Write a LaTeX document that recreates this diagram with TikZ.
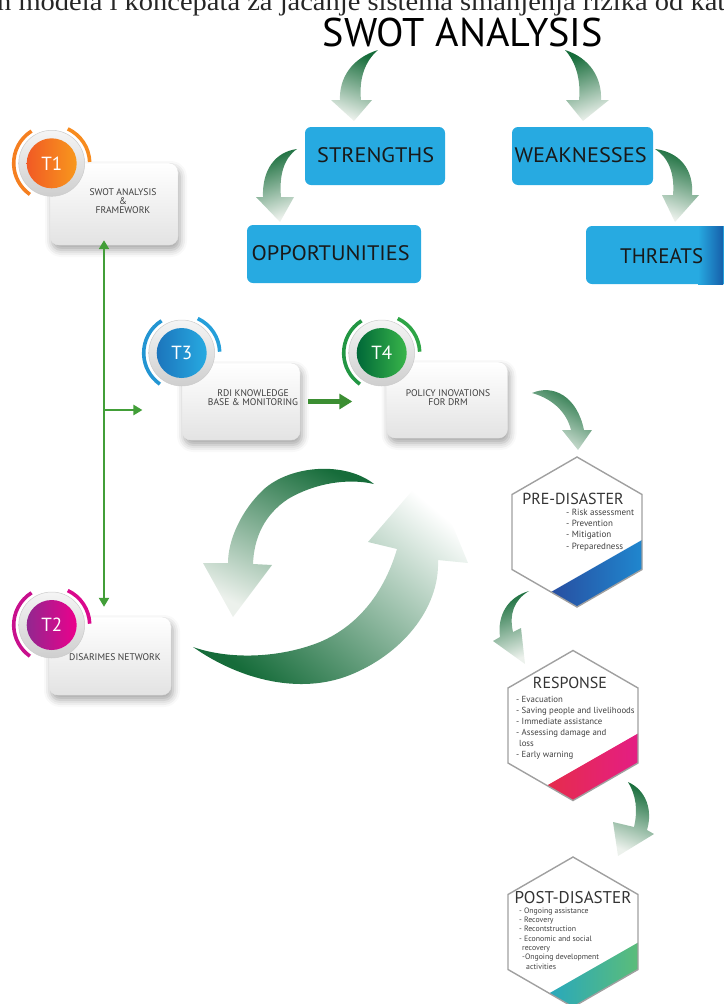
\documentclass[tikz,border=0pt]{standalone}
\usepackage{fontspec}
\setmainfont{Liberation Serif}
\newfontfamily\ptsans{PT Sans}
\usetikzlibrary{arrows.meta,shadows.blur,calc}
\definecolor{swotblue}{RGB}{39,170,225}
\definecolor{swotdeep}{RGB}{22,95,170}
\definecolor{gdark}{RGB}{22,108,58}
\definecolor{gmid}{RGB}{125,163,135}
\definecolor{glight}{RGB}{236,241,236}
\definecolor{conngreen}{RGB}{66,158,56}
\definecolor{cardtxt}{RGB}{62,62,62}
\definecolor{hexgray}{RGB}{160,160,160}
\definecolor{orA}{RGB}{241,90,36}
\definecolor{orB}{RGB}{248,152,29}
\definecolor{mgA}{RGB}{146,39,143}
\definecolor{mgB}{RGB}{236,0,140}
\definecolor{blA}{RGB}{28,117,188}
\definecolor{blB}{RGB}{39,170,225}
\definecolor{gnA}{RGB}{0,104,56}
\definecolor{gnB}{RGB}{57,181,74}
\definecolor{preA}{RGB}{43,57,144}
\definecolor{preB}{RGB}{30,144,214}
\definecolor{resA}{RGB}{230,50,55}
\definecolor{resB}{RGB}{228,27,141}
\definecolor{posA}{RGB}{20,160,215}
\definecolor{posB}{RGB}{100,192,110}
\newcommand\fitw[2]{\resizebox{#1}{\height}{#2}}
\newcommand\tring[5]{%
  \node[ringnode] (#1) at #2 {};
  \node[circle, minimum size=50pt, inner sep=0pt, left color=#3, right color=#4,
        text=white, font=\ptsans\fontsize{19}{19}\selectfont] (#1in) at (#1) {#5};
  \draw[#4!60!#3, line width=3.6pt] ($(#1)+(-122:38)$) arc[start angle=-122, end angle=-235, radius=38];
  \draw[#4!80!#3, line width=3.6pt] ($(#1)+(-65:38)$) arc[start angle=-65, end angle=-2, radius=38];
}
\newcommand\hexshape{(0,-75) -- (-65,-37.5) -- (-65,37.5) -- (0,75) -- (65,37.5) -- (65,-37.5) -- cycle}
\begin{document}
\begin{tikzpicture}[x=1pt,y=-1pt,
  swotbox/.style={rounded corners=6pt, fill=swotblue, inner sep=0pt},
  swottext/.style={font=\ptsans\fontsize{21}{21}\selectfont, text=black!90, inner sep=0pt},
  card/.style={rounded corners=9pt, top color=white, bottom color=gray!22, draw=gray!20, line width=0.4pt,
     inner sep=0pt, blur shadow={shadow xshift=2pt, shadow yshift=-5pt, shadow blur radius=7pt, shadow opacity=35}},
  cardtext/.style={font=\ptsans\fontsize{9.6}{9}\selectfont, text=cardtxt, align=center, inner sep=0pt},
  ringnode/.style={circle, minimum size=66pt, inner sep=0pt, top color=gray!8, bottom color=gray!38, draw=gray!40, line width=0.5pt},
  conn/.style={draw=conngreen, line width=2.4pt},
  tipsmall/.tip={Triangle[width=10pt,length=9pt]},
  crescent/.style={top color=gdark, middle color=gmid, bottom color=glight},
  hexline/.style={draw=hexgray, line width=1.4pt},
  hextitle/.style={font=\ptsans\fontsize{16}{16}\selectfont, text=black!80, inner sep=0pt},
  hexitems/.style={font=\ptsans\fontsize{9}{11.2}\selectfont, text=black!75, align=left, inner sep=0pt, anchor=north west}
]
\useasboundingbox (0,0) rectangle (723,1004);

% caption (cut off at top)
\node[anchor=base west, inner sep=0pt, font=\fontsize{26}{26}\selectfont, text=black!85] (caption) at (-3,10)
  {\fitw{728pt}{n modela i koncepata za jačanje sistema smanjenja rizika od kat}};

% SWOT title
\node[font=\ptsans\fontsize{40}{40}\selectfont, inner sep=0pt] (swot) at (463,32) {\fitw{280pt}{SWOT ANALYSIS}};

% SWOT boxes
\node[swotbox, minimum width=140pt, minimum height=58pt] (strengths) at (375,156) {};
\node[swottext] (strengthst) at (375.7,155) {\fitw{117pt}{STRENGTHS}};
\node[swotbox, minimum width=141pt, minimum height=58pt] (weak) at (582.5,156) {};
\node[swottext] (weakt) at (580.7,155) {\fitw{132pt}{WEAKNESSES}};
\node[swotbox, minimum width=174pt, minimum height=58pt] (opp) at (334,254) {};
\node[swottext] (oppt) at (330.7,253) {\fitw{158pt}{OPPORTUNITIES}};
\node[swotbox, minimum width=151pt, minimum height=58pt] (threats) at (661.5,255) {};
\shade[left color=swotblue, right color=swotdeep] (698,226) rectangle (723,284);
\node[swottext] (threatst) at (661.7,255.7) {\fitw{83pt}{THREATS}};

% SWOT crescent arrows
\shade[crescent, shading angle=-20] (378,50) .. controls (352,58) and (339,78) .. (340,100) -- (331,100) -- (354,121) -- (372,100) -- (361,100) .. controls (359,80) and (364,62) .. (378,50) -- cycle;
\shade[crescent, shading angle=20] (565,50) .. controls (590,58) and (602,78) .. (601,100) -- (609,100) -- (583,121) -- (566,100) -- (579,100) .. controls (581,80) and (576,62) .. (565,50) -- cycle;
\shade[crescent, shading angle=20] (297,149) .. controls (275,152) and (262,170) .. (263,197) -- (256,197) -- (280,222) -- (294,197) -- (281,197) .. controls (279,175) and (284,158) .. (297,149) -- cycle;
\shade[crescent, shading angle=-20] (655,149) .. controls (680,152) and (694,170) .. (692,195) -- (699,195) -- (675,222) -- (662,195) -- (673,195) .. controls (675,173) and (668,157) .. (655,149) -- cycle;

% cards
\node[card, minimum width=128pt, minimum height=82pt] (t1card) at (114,204) {};
\node[card, minimum width=122pt, minimum height=78pt] (t2card) at (110,656) {};
\node[card, minimum width=118pt, minimum height=77pt] (t3card) at (241,401.5) {};
\node[card, minimum width=121pt, minimum height=76pt] (t4card) at (447,400) {};
\node[cardtext] (t1text) at (123,201) {SWOT ANALYSIS\\\&\\FRAMEWORK};
\node[cardtext] (t2text) at (115,657) {DISARIMES NETWORK};
\node[cardtext] (t3text) at (253,397.5) {RDI KNOWLEDGE\\BASE \& MONITORING};
\node[cardtext] (t4text) at (448,397.5) {POLICY INOVATIONS\\FOR DRM};

% rings
\tring{t1ring}{(51.7,163.3)}{orA}{orB}{T1}
\tring{t2ring}{(51.7,625)}{mgA}{mgB}{T2}
\tring{t3ring}{(181.7,353)}{blA}{blB}{T3}
\tring{t4ring}{(381.7,353)}{gnA}{gnB}{T4}

% connectors
\coordinate (j) at (104,410);
\draw[conn, {tipsmall}-{tipsmall}, shorten <=-5pt, shorten >=10pt] (t1card.south -| j) -- (t2card.north -| j);
\draw[conn, -{tipsmall}, shorten >=6pt] (j) -- (t3ring.west |- j);
\draw[draw=conngreen!90!black, line width=4.5pt, -{Triangle[width=15pt,length=13pt]}, shorten <=8pt, shorten >=34pt]
  (t3card.east) -- (t3card.east -| t4card.west);

% big cycle arrows
\shade[top color=gdark, middle color=gmid!90!gdark, bottom color=glight, shading angle=-25]
  (374,484) .. controls (345,461) and (290,465) .. (263,490) .. controls (241,511) and (228,540) .. (228,563)
  -- (203,563) -- (233,617) -- (272,565) -- (253,564)
  .. controls (254,538) and (264,515) .. (288,499) .. controls (315,483) and (348,478) .. (374,484) -- cycle;
\shade[top color=white, middle color=gmid, bottom color=gdark, shading angle=-40]
  (193,647) .. controls (240,680) and (300,695) .. (350,675) .. controls (400,655) and (440,610) .. (438,560)
  -- (468,563) -- (430,470) -- (368,542) -- (397,549)
  .. controls (385,590) and (360,625) .. (320,642) .. controls (280,658) and (230,660) .. (193,647) -- cycle;

% T4 -> PRE arrow
\shade[crescent, shading angle=-30] (532,393) .. controls (553,384) and (577,396) .. (584,430) -- (592,430) -- (578,450) -- (562,430) -- (571,430) .. controls (566,410) and (550,398) .. (532,393) -- cycle;
% PRE -> RESPONSE arrow
\shade[crescent, shading angle=20] (529,591) .. controls (508,597) and (497,615) .. (500,637) -- (493,641) -- (525,664) -- (521,628) -- (513,632) .. controls (509,614) and (514,600) .. (529,591) -- cycle;
% RESPONSE -> POST arrow
\shade[crescent, shading angle=-20] (628,782) .. controls (646,790) and (653,810) .. (647,830) -- (654,834) -- (618,856) -- (613,822) -- (634,827) .. controls (638,810) and (636,795) .. (628,782) -- cycle;

% PRE-DISASTER
\begin{scope}[shift={(577,532)}]
  \coordinate (pre) at (0,0);
  \begin{scope}
    \clip \hexshape;
    \shade[left color=preA, right color=preB] (80,-0.6) -- (-60,79.4) -- (-60,90) -- (80,90) -- cycle;
  \end{scope}
  \draw[hexline] \hexshape;
  \node[hextitle] (pretitle) at (-4,-33) {PRE-DISASTER};
  \node[hexitems] (preitems) at (-11,-23) {- Risk assessment\\- Prevention\\- Mitigation\\- Preparedness};
\end{scope}

% RESPONSE
\begin{scope}[shift={(573,725.5)}]
  \coordinate (res) at (0,0);
  \begin{scope}
    \clip \hexshape;
    \shade[left color=resA, right color=resB] (80,-0.6) -- (-60,79.4) -- (-60,90) -- (80,90) -- cycle;
  \end{scope}
  \draw[hexline] \hexshape;
  \node[hextitle] (restitle) at (-3,-42.5) {RESPONSE};
  \node[hexitems, font=\ptsans\fontsize{8.8}{11}\selectfont] (resitems) at (-57,-29.5)
    {- Evacuation\\- Saving people and livelihoods\\- Immediate assistance\\- Assessing damage and\\\hspace*{3pt}loss\\- Early warning};
\end{scope}

% POST-DISASTER
\begin{scope}[shift={(573,932)}]
  \coordinate (post) at (0,0);
  \begin{scope}
    \clip \hexshape;
    \shade[left color=posA, right color=posB] (80,2) -- (-60,82) -- (-60,90) -- (80,90) -- cycle;
  \end{scope}
  \draw[hexline] \hexshape;
  \node[hextitle, font=\ptsans\fontsize{17}{17}\selectfont] (posttitle) at (0,-34) {POST-DISASTER};
  \node[hexitems, font=\ptsans\fontsize{7.8}{9.3}\selectfont] (postitems) at (-54,-24.5)
    {- Ongoing assistance\\- Recovery\\- Recontstruction\\- Economic and social\\\hspace*{3pt}recovery\\\hspace*{3pt}-Ongoing development\\\hspace*{7pt}activities};
\end{scope}
\end{tikzpicture}
\end{document}
